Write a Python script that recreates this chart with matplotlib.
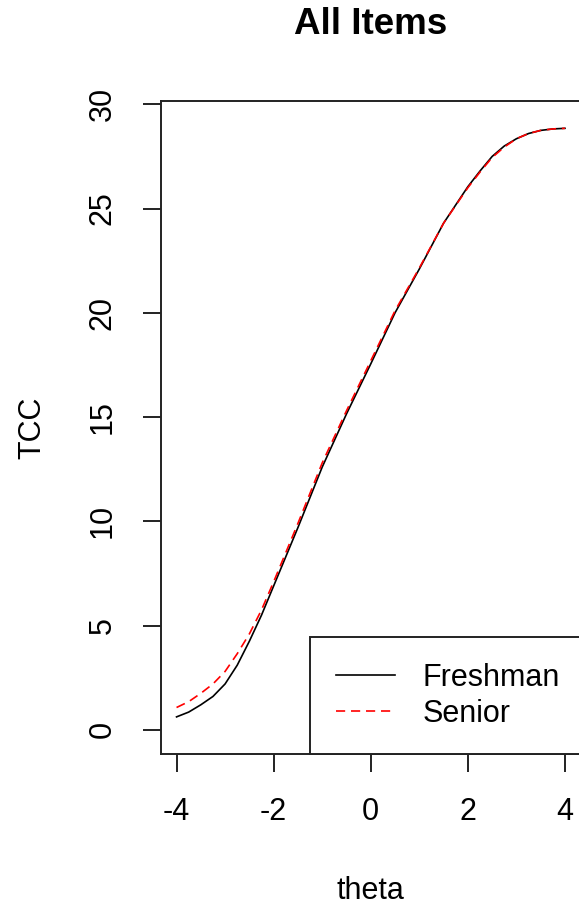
import numpy as np
import matplotlib
matplotlib.use('Agg')
import matplotlib.pyplot as plt

plt.rcParams['font.family'] = ['Liberation Sans', 'DejaVu Sans']

# test characteristic curves
theta = [-4, -3.75, -3.5, -3.25, -3, -2.75, -2.5, -2.25, -2, -1.5, -1, -0.5,
         0, 0.5, 1, 1.5, 2, 2.25, 2.5, 2.75, 3, 3.25, 3.5, 3.75, 4]
freshman = [0.62, 0.85, 1.2, 1.6, 2.2, 3.1, 4.25, 5.5, 6.9, 9.7, 12.6, 15.15,
            17.55, 20.0, 22.1, 24.3, 26.05, 26.8, 27.5, 28.0, 28.35, 28.6, 28.75, 28.82, 28.85]
senior = [1.07, 1.35, 1.75, 2.2, 2.8, 3.65, 4.6, 5.75, 7.1, 9.9, 12.8, 15.3,
          17.7, 20.1, 22.15, 24.3, 26.0, 26.75, 27.45, 27.95, 28.35, 28.6, 28.75, 28.82, 28.85]
group_names = ['Freshman', 'Senior']
xticks = [-4, -2, 0, 2, 4]
yticks = [0, 5, 10, 15, 20, 25, 30]

W, H = 579, 905
fig = plt.figure(figsize=(W / 100, H / 100), dpi=100)
# axes box: left 161px, right 580.5px (runs off the picture), top 101px, bottom 754px
ax = fig.add_axes([161 / W, (H - 754) / H, 419.5 / W, (754 - 101) / H])

ax.plot(theta, freshman, color='black', lw=1.2, label=group_names[0])
ax.plot(theta, senior, color='red', lw=1.2, ls=(0, (5.5, 3.5)), label=group_names[1])

ax.set_xlim(-4.32, 4.32)
ax.set_ylim(-1.16, 30.16)

for s in ax.spines.values():
    s.set_linewidth(1.4)
    s.set_color('#222222')

ax.set_xticks(xticks)
ax.set_xticklabels([str(v) for v in xticks])
ax.set_yticks(yticks)
ax.set_yticklabels([str(v) for v in yticks], rotation=90, va='center')
ax.tick_params(axis='both', length=13, width=1.4, color='#222222', labelsize=22, pad=18)

ax.set_xlabel('theta', fontsize=22, labelpad=35)
ax.set_ylabel('TCC', fontsize=22, labelpad=29)
ax.set_title('All Items', fontsize=26.5, fontweight='bold', pad=48)

leg = ax.legend(loc='lower right', bbox_to_anchor=(1 + 5 / 419.5, 0), borderaxespad=0,
                fontsize=22, fancybox=False, handlelength=1.95, handletextpad=0.9,
                borderpad=0.83, labelspacing=0.2, framealpha=1)
leg.get_frame().set_edgecolor('#222222')
leg.get_frame().set_linewidth(1.4)

fig.savefig('out.png', dpi=100)
